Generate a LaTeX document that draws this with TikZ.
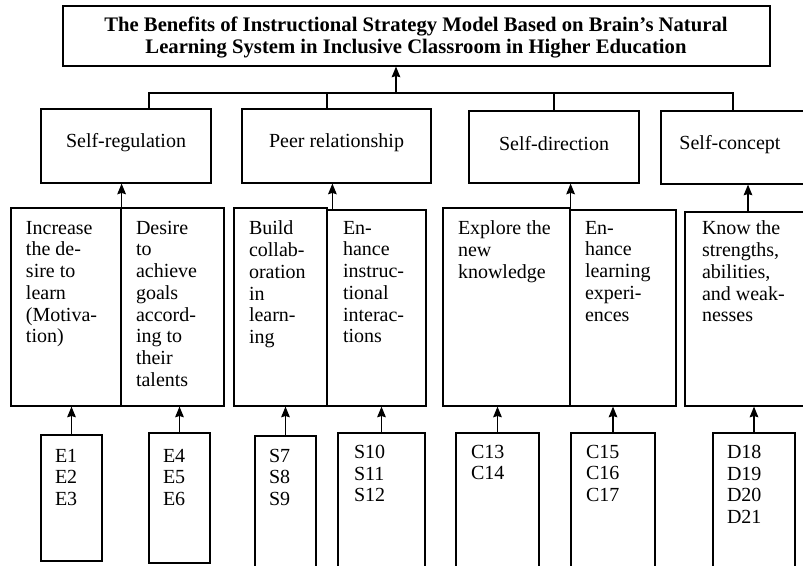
\documentclass[tikz,border=0pt]{standalone}
\usepackage{fontspec}
\setmainfont{Liberation Serif}
\usetikzlibrary{positioning, fit, arrows.meta}
\tikzset{>={Stealth[length=8pt, width=6.5pt, inset=1pt]},
  box/.style={draw, line width=0.9pt, inner sep=0pt},
  lbl/.style={font=\fontsize{15}{16.3}\selectfont, inner sep=0pt, align=left}}

\begin{document}
\begin{tikzpicture}[x=0.75pt, y=-0.75pt, line width=0.9pt]
    \useasboundingbox (0,0) rectangle (803,565);
    % goal
    \node[box, fit={(63,6) (770,66)}] (title) {};
    \node[lbl, font=\bfseries\fontsize{15.5}{16}\selectfont, align=center] (titlet) at (416,37.5)
        {The Benefits of Instructional Strategy Model Based on Brain’s Natural\\Learning System in Inclusive Classroom in Higher Education};
    % benefits
    \node[box, fit={(41,109) (211,183)}] (reg) {};
    \node[box, fit={(242,109) (431,183)}] (peer) {};
    \node[box, fit={(469,111) (639,183)}] (dir) {};
    \node[box, fit={(661,111) (805,184)}] (con) {};
    \node[lbl] (regt) at ([yshift=2.25pt]reg.center) {Self-regulation};
    \node[lbl] (peert) at ([yshift=2.25pt]peer.center) {Peer relationship};
    \node[lbl] (dirt) at ([yshift=2.25pt]dir.center) {Self-direction};
    \node[lbl] (cont) at ([shift={(-3,-3)}]con.center) {Self-concept};
    % indicators
    \node[box, fit={(11,208) (121,406)}] (inc) {};
    \node[box, fit={(121,208) (224,406)}] (des) {};
    \node[box, fit={(234,208) (327,406)}] (bui) {};
    \node[box, fit={(327,210) (426,406)}] (enh) {};
    \node[box, fit={(443,208) (570,406)}] (exp) {};
    \node[box, fit={(570,210) (676,406)}] (enl) {};
    \node[box, fit={(685,212) (805,406)}] (kno) {};
    \node[lbl, anchor=north west] (inct) at ([shift={(15,13)}]inc.north west)
        {Increase\\the de-\\sire to\\learn\\(Motiva-\\tion)};
    \node[lbl, anchor=north west] (dest) at ([shift={(15,13)}]des.north west)
        {Desire\\to\\achieve\\goals\\accord-\\ing to\\their\\talents};
    \node[lbl, anchor=north west] (buit) at ([shift={(15,13)}]bui.north west)
        {Build\\collab-\\oration\\in\\learn-\\ing};
    \node[lbl, anchor=north west] (enht) at ([shift={(16,11)}]enh.north west)
        {En-\\hance\\instruc-\\tional\\interac-\\tions};
    \node[lbl, anchor=north west] (expt) at ([shift={(15,13)}]exp.north west)
        {Explore the\\new\\knowledge};
    \node[lbl, anchor=north west] (enlt) at ([shift={(15,11)}]enl.north west)
        {En-\\hance\\learning\\experi-\\ences};
    \node[lbl, anchor=north west] (knot) at ([shift={(17,9)}]kno.north west)
        {Know the\\strengths,\\abilities,\\and weak-\\nesses};
    % items
    \node[box, fit={(41,435) (102,561)}] (e1) {};
    \node[box, fit={(149,433) (210,563)}] (e4) {};
    \node[box, fit={(255,436) (316,575)}] (s7) {};
    \node[box, fit={(338,433) (425,575)}] (s10) {};
    \node[box, fit={(456,433) (539,575)}] (c13) {};
    \node[box, fit={(571,433) (655,575)}] (c15) {};
    \node[box, fit={(713,433) (795,575)}] (d18) {};
    \node[lbl, anchor=north west] (e1t) at ([shift={(14,14)}]e1.north west) {E1\\E2\\E3};
    \node[lbl, anchor=north west] (e4t) at ([shift={(14,16)}]e4.north west) {E4\\E5\\E6};
    \node[lbl, anchor=north west] (s7t) at ([shift={(14,13)}]s7.north west) {S7\\S8\\S9};
    \node[lbl, anchor=north west] (s10t) at ([shift={(16,12)}]s10.north west) {S10\\S11\\S12};
    \node[lbl, anchor=north west] (c13t) at ([shift={(15,12)}]c13.north west) {C13\\C14};
    \node[lbl, anchor=north west] (c15t) at ([shift={(15,12)}]c15.north west) {C15\\C16\\C17};
    \node[lbl, anchor=north west] (d18t) at ([shift={(14,12)}]d18.north west) {D18\\D19\\D20\\D21};
    % connectors
    \coordinate (hub) at (396,93);
    \draw ([xshift=17.25pt]reg.north) |- (hub) -| (con.north);
    \draw ([xshift=-7.1pt]peer.north) -- ([xshift=-7.1pt]peer.north |- hub);
    \draw (dir.north) -- (dir.north |- hub);
    \draw[->] (hub) -- (hub |- title.south);
    \draw[->] (inc.north east) -- (inc.north east |- reg.south);
    \coordinate (pa) at ([xshift=4.5pt]enh.north west);
    \draw[->] (pa) -- (pa |- peer.south);
    \draw[->] (exp.north east) -- (exp.north east |- dir.south);
    \draw[->] ([xshift=2.25pt]kno.north) -- ([xshift=2.25pt]kno.north |- con.south);
    \foreach \a/\b in {e1/inc, e4/des, s7/bui, s10/enh, c13/exp, c15/enl, d18/kno}
        \draw[->] (\a.north) -- (\a.north |- \b.south);
\end{tikzpicture}
\end{document}
